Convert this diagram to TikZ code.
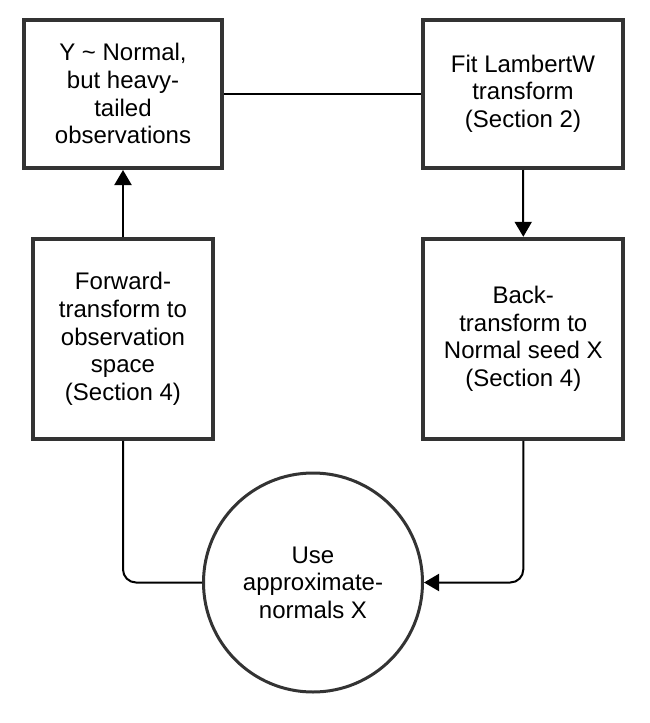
\documentclass[tikz,border=0pt]{standalone}
\usepackage{fontspec}
\setmainfont{Liberation Sans}
\usetikzlibrary{arrows.meta}
\definecolor{boxline}{HTML}{333333}
\tikzset{
  stepbox/.style={draw=boxline, line width=4pt, fill=white, align=center,
    inner sep=0pt, font=\fontsize{24pt}{27.6pt}\selectfont},
  usecircle/.style={draw=boxline, line width=3pt, fill=white, circle, align=center,
    inner sep=0pt, minimum size=219pt, font=\fontsize{24pt}{27.6pt}\selectfont},
  conn/.style={draw=black, line width=2pt},
  arr/.style={conn, -{Triangle[length=15pt,width=17pt]}},
}
\begin{document}
\begin{tikzpicture}[x=1pt,y=-1pt]
\useasboundingbox (0,0) rectangle (649,723);
\node[stepbox, minimum width=198pt, minimum height=148.5pt] (b1) at (123,93.75)
  {Y \char`\~\ Normal,\\but heavy-\\tailed\\observations};
\node[stepbox, minimum width=199.5pt, minimum height=148.5pt] (b2) at (523,93.75)
  {Fit LambertW\\transform\\(Section 2)};
\node[stepbox, minimum width=179.6pt, minimum height=200pt] (b3) at (123,338.8)
  {Forward-\\transform to\\observation\\space\\(Section 4)};
\node[stepbox, minimum width=200pt, minimum height=200pt] (b4) at (523.3,338.8)
  {Back-\\transform to\\Normal seed X\\(Section 4)};
\node[usecircle] (c) at (313,582.5) {Use\\approximate-\\normals X};
\draw[conn] (b1.east) -- (b2.west);
\draw[arr] (b2.south) -- (b4.north);
\draw[arr] (b3.north) -- (b1.south);
\draw[conn, rounded corners=13pt] (b3.south) |- (c.west);
\draw[arr, rounded corners=13pt] (b4.south) |- (c.east);
\end{tikzpicture}
\end{document}
